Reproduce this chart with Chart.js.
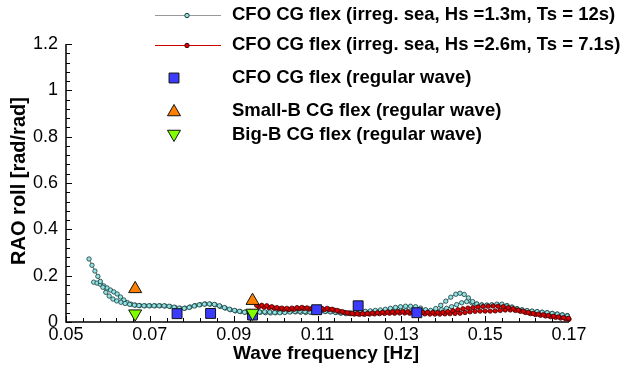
<!DOCTYPE html>
<html>
<head>
<meta charset="utf-8">
<script src="https://cdn.jsdelivr.net/npm/chart.js@4.4.0/dist/chart.umd.min.js"></script>
<style>
  html, body { margin: 0; padding: 0; background: #fff; }
  #wrap { width: 627px; height: 367px; }
</style>
</head>
<body>
<div id="wrap"><canvas id="raoChart" width="627" height="367"></canvas></div>
<script>
// --- data ---
const xTickValues = [0.05, 0.07, 0.09, 0.11, 0.13, 0.15, 0.17];
const xTickLabels = ['0.05', '0.07', '0.09', '0.11', '0.13', '0.15', '0.17'];
const yTickValues = [0, 0.2, 0.4, 0.6, 0.8, 1, 1.2];
const yTickLabels = ['0', '0.2', '0.4', '0.6', '0.8', '1', '1.2'];

const legendLabels = [
    'CFO CG flex (irreg. sea, Hs =1.3m, Ts = 12s)',
    'CFO CG flex (irreg. sea, Hs =2.6m, Ts = 7.1s)',
    'CFO CG flex (regular wave)',
    'Small-B CG flex (regular wave)',
    'Big-B CG flex (regular wave)'
];

// irregular sea Hs=1.3m, Ts=12s (two traces plotted in the same style)
const sea1aFreq = [0.0555,0.0562,0.0569,0.0576,0.0582,0.0588,0.0595,0.0603,0.0612,0.0621,
    0.0631,0.0641,0.0652,0.0663,0.0674,0.0686,0.0698,0.0710,0.0722,0.0734,
    0.0746,0.0758,0.0770,0.0782,0.0794,0.0806,0.0818,0.0830,0.0842,0.0854,
    0.0866,0.0878,0.0890,0.0902,0.0914,0.0926,0.0938,0.0950,0.0962,0.0974,
    0.0986,0.0998,0.1010,0.1022,0.1034,0.1046,0.1058,0.1070,0.1082,0.1094,
    0.1106,0.1118,0.1130,0.1142,0.1154,0.1166,0.1178,0.1190,0.1202,0.1214,
    0.1226,0.1238,0.1250,0.1262,0.1274,0.1286,0.1298,0.1310,0.1322,0.1334,
    0.1346,0.1358,0.1370,0.1382,0.1394,0.1406,0.1418,0.1430,0.1440,0.1450,
    0.1460,0.1470,0.1480,0.1492,0.1504,0.1516,0.1528,0.1540,0.1552,0.1564,
    0.1576,0.1588,0.1600,0.1612,0.1624,0.1636,0.1648,0.1660,0.1672,0.1684,0.1696];
const sea1aRao = [0.272,0.245,0.220,0.197,0.175,0.150,0.128,0.112,0.099,0.091,
    0.085,0.080,0.076,0.073,0.071,0.070,0.070,0.070,0.070,0.070,
    0.068,0.064,0.060,0.059,0.063,0.069,0.074,0.077,0.078,0.076,
    0.070,0.062,0.055,0.050,0.046,0.042,0.040,0.041,0.043,0.044,
    0.043,0.041,0.040,0.041,0.043,0.045,0.046,0.045,0.043,0.042,
    0.043,0.045,0.044,0.042,0.040,0.039,0.040,0.042,0.044,0.046,
    0.048,0.050,0.052,0.055,0.059,0.063,0.066,0.068,0.068,0.066,
    0.060,0.053,0.050,0.058,0.072,0.090,0.107,0.120,0.124,0.119,
    0.104,0.088,0.078,0.073,0.072,0.074,0.077,0.077,0.069,0.061,
    0.055,0.051,0.049,0.047,0.045,0.042,0.040,0.037,0.034,0.030,0.026];

const sea1bFreq = [0.0566,0.0574,0.0582,0.0590,0.0598,0.0606,0.0614,0.0622,0.0630,0.0638,
    0.0646,0.0655,0.0665,0.0676,0.0688,0.0700,0.0712,0.0724,0.0736,0.0748,
    0.0760,0.0772,0.0784,0.0796,0.0808,0.0820,0.0832,0.0844,0.0856,0.0868,
    0.0880,0.0892,0.0904,0.0916,0.0928,0.0940,0.0952,0.0964,0.0976,0.0988,
    0.1000,0.1012,0.1024,0.1036,0.1048,0.1060,0.1072,0.1084,0.1096,0.1108,
    0.1120,0.1132,0.1144,0.1156,0.1168,0.1180,0.1192,0.1204,0.1216,0.1228,
    0.1240,0.1252,0.1264,0.1276,0.1288,0.1300,0.1312,0.1324,0.1336,0.1348,
    0.1360,0.1372,0.1384,0.1396,0.1408,0.1420,0.1432,0.1444,0.1456,0.1468,
    0.1480,0.1492,0.1504,0.1516,0.1528,0.1540,0.1552,0.1564,0.1576,0.1588,
    0.1600,0.1612,0.1624,0.1636,0.1648,0.1660,0.1672,0.1684,0.1696];
const sea1bRao = [0.172,0.168,0.163,0.156,0.147,0.138,0.130,0.121,0.108,0.095,
    0.084,0.077,0.073,0.071,0.070,0.070,0.070,0.070,0.069,0.067,
    0.063,0.059,0.060,0.065,0.071,0.075,0.078,0.077,0.074,0.067,
    0.060,0.053,0.048,0.045,0.043,0.045,0.044,0.042,0.040,0.039,
    0.040,0.042,0.044,0.045,0.044,0.042,0.041,0.042,0.044,0.046,
    0.046,0.044,0.041,0.038,0.036,0.036,0.038,0.041,0.043,0.044,
    0.045,0.045,0.046,0.048,0.050,0.051,0.050,0.048,0.046,0.045,
    0.044,0.045,0.048,0.053,0.059,0.066,0.075,0.083,0.088,0.083,
    0.077,0.074,0.073,0.073,0.074,0.074,0.071,0.065,0.058,0.053,
    0.049,0.046,0.044,0.042,0.040,0.037,0.034,0.031,0.028];

// irregular sea Hs=2.6m, Ts=7.1s (two traces)
const sea2aFreq = [0.0955,0.0967,0.0979,0.0991,0.1003,0.1015,0.1027,0.1039,0.1051,0.1063,
    0.1075,0.1087,0.1099,0.1111,0.1123,0.1135,0.1147,0.1159,0.1171,0.1183,
    0.1195,0.1207,0.1219,0.1231,0.1243,0.1255,0.1267,0.1279,0.1291,0.1303,
    0.1315,0.1327,0.1339,0.1351,0.1363,0.1375,0.1387,0.1399,0.1411,0.1423,
    0.1435,0.1447,0.1459,0.1471,0.1483,0.1495,0.1507,0.1519,0.1531,0.1543,
    0.1555,0.1567,0.1579,0.1591,0.1603,0.1615,0.1627,0.1639,0.1651,0.1663,
    0.1675,0.1687,0.1699];
const sea2aRao = [0.072,0.072,0.070,0.066,0.062,0.060,0.059,0.060,0.062,0.063,
    0.061,0.059,0.058,0.058,0.059,0.055,0.050,0.045,0.040,0.037,
    0.036,0.036,0.037,0.039,0.040,0.042,0.043,0.044,0.045,0.045,
    0.044,0.043,0.042,0.042,0.042,0.041,0.040,0.042,0.045,0.049,
    0.053,0.057,0.060,0.062,0.065,0.067,0.068,0.069,0.068,0.066,
    0.062,0.057,0.051,0.046,0.041,0.037,0.034,0.031,0.028,0.025,
    0.022,0.019,0.016];

const sea2bFreq = [0.0960,0.0972,0.0984,0.0996,0.1008,0.1020,0.1032,0.1044,0.1056,0.1068,
    0.1080,0.1092,0.1104,0.1116,0.1128,0.1140,0.1152,0.1164,0.1176,0.1188,
    0.1200,0.1212,0.1224,0.1236,0.1248,0.1260,0.1272,0.1284,0.1296,0.1308,
    0.1320,0.1332,0.1344,0.1356,0.1368,0.1380,0.1392,0.1404,0.1416,0.1428,
    0.1440,0.1452,0.1464,0.1476,0.1488,0.1500,0.1512,0.1524,0.1536,0.1548,
    0.1560,0.1572,0.1584,0.1596,0.1608,0.1620,0.1632,0.1644,0.1656,0.1668,
    0.1680,0.1692,0.1700];
const sea2bRao = [0.066,0.064,0.062,0.060,0.057,0.055,0.054,0.055,0.057,0.058,
    0.056,0.053,0.052,0.053,0.054,0.051,0.046,0.041,0.037,0.034,
    0.033,0.033,0.034,0.035,0.036,0.037,0.038,0.038,0.039,0.039,
    0.038,0.037,0.036,0.035,0.034,0.034,0.034,0.035,0.036,0.037,
    0.038,0.041,0.044,0.046,0.047,0.047,0.047,0.048,0.050,0.052,
    0.052,0.050,0.046,0.041,0.036,0.032,0.029,0.026,0.023,0.020,
    0.017,0.014,0.012];

// regular wave tests
const cfoRegFreq = [0.0765, 0.0845, 0.0945, 0.1098, 0.1197, 0.1337];
const cfoRegRao = [0.036, 0.037, 0.030, 0.053, 0.070, 0.040];
const smallBFreq = [0.0665, 0.0945];
const smallBRao = [0.143, 0.092];
const bigBFreq = [0.0665, 0.0945];
const bigBRao = [0.036, 0.039];

// --- helpers ---
function toPoints(xs, ys) {
    const n = Math.min(xs.length, ys.length);
    const pts = [];
    for (let i = 0; i < n; i++) pts.push({ x: xs[i], y: ys[i] });
    return pts;
}

const FONT = '"Liberation Sans", Arial, Helvetica, sans-serif';

const styles = {
    sea1: { line: '#666666', fill: '#8fe3e3', edge: '#1a3a3a' },
    sea2: { line: '#8b0000', fill: '#e00000', edge: '#3a0000' },
    cfo: { fill: '#3b3bff', edge: '#111111' },
    smallB: { fill: '#ff8000', edge: '#111111' },
    bigB: { fill: '#80ff00', edge: '#111111' }
};

function seaDataset(label, xs, ys, st, order) {
    return {
        label: label,
        data: toPoints(xs, ys),
        showLine: true,
        borderColor: st.line,
        borderWidth: 1,
        pointRadius: 2.2,
        pointBorderWidth: 0.8,
        pointBackgroundColor: st.fill,
        pointBorderColor: st.edge,
        tension: 0,
        order: order,
        clip: false
    };
}

function markerDataset(label, xs, ys, st, shape, radius, rotation, order) {
    return {
        label: label,
        data: toPoints(xs, ys),
        showLine: false,
        pointStyle: shape,
        pointRadius: radius,
        pointRotation: rotation,
        pointBackgroundColor: st.fill,
        pointBorderColor: st.edge,
        pointBorderWidth: 1,
        order: order,
        clip: false
    };
}

// Tecplot-like axes: left + bottom lines, inward major/minor ticks
const tecplotAxes = {
    id: 'tecplotAxes',
    beforeDatasetsDraw(chart) {
        const { ctx, chartArea: a, scales: { x, y } } = chart;
        ctx.save();
        ctx.strokeStyle = '#000';
        ctx.lineWidth = 1.5;
        ctx.beginPath();
        ctx.moveTo(a.left, a.top);
        ctx.lineTo(a.left, a.bottom);
        ctx.lineTo(a.right, a.bottom);
        ctx.stroke();

        ctx.lineWidth = 1;
        ctx.beginPath();
        for (let i = 0; i <= 30; i++) {
            const len = i % 5 === 0 ? 6 : 4;
            const px = Math.round(x.getPixelForValue(0.05 + i * 0.004)) + 0.5;
            ctx.moveTo(px, a.bottom);
            ctx.lineTo(px, a.bottom - len);
            const py = Math.round(y.getPixelForValue(i * 0.04)) + 0.5;
            ctx.moveTo(a.left, py);
            ctx.lineTo(a.left + len, py);
        }
        ctx.stroke();

        // axis titles
        ctx.fillStyle = '#000';
        ctx.textAlign = 'center';
        ctx.textBaseline = 'middle';
        ctx.font = 'bold 19px ' + FONT;
        ctx.fillText('Wave frequency [Hz]', 326, 354);
        ctx.translate(19, 181);
        ctx.rotate(-Math.PI / 2);
        ctx.font = 'bold 20px ' + FONT;
        ctx.fillText('RAO roll [rad/rad]', 0, 0);
        ctx.restore();
    }
};

function drawShape(ctx, shape, cx, cy, r, fill, edge) {
    ctx.fillStyle = fill;
    ctx.strokeStyle = edge;
    ctx.lineWidth = 1;
    ctx.beginPath();
    if (shape === 'circle') {
        ctx.arc(cx, cy, r, 0, Math.PI * 2);
    } else if (shape === 'rect') {
        const s = r * Math.SQRT1_2;
        ctx.rect(cx - s, cy - s, 2 * s, 2 * s);
    } else {
        const dir = shape === 'triangleDown' ? -1 : 1;
        for (let k = 0; k < 3; k++) {
            const ang = k * 2 * Math.PI / 3;
            const px = cx + Math.sin(ang) * r;
            const py = cy - dir * Math.cos(ang) * r;
            if (k === 0) ctx.moveTo(px, py); else ctx.lineTo(px, py);
        }
        ctx.closePath();
    }
    ctx.fill();
    ctx.stroke();
}

// legend placed in the upper right like the original figure
const tecplotLegend = {
    id: 'tecplotLegend',
    afterDraw(chart) {
        const ctx = chart.ctx;
        const rowY = [15, 45, 78, 111, 135];
        const symX = 174;
        ctx.save();
        const lineCols = [styles.sea1, styles.sea2];
        for (let i = 0; i < 2; i++) {
            ctx.strokeStyle = i === 0 ? '#999999' : '#cc0000';
            ctx.lineWidth = 1;
            ctx.beginPath();
            ctx.moveTo(155, rowY[i] + 0.5);
            ctx.lineTo(221, rowY[i] + 0.5);
            ctx.stroke();
            drawShape(ctx, 'circle', 187, rowY[i] + 0.5, 2.2, lineCols[i].fill, lineCols[i].edge);
        }
        drawShape(ctx, 'rect', symX, rowY[2], 7, styles.cfo.fill, styles.cfo.edge);
        drawShape(ctx, 'triangle', symX, rowY[3] + 1, 7.5, styles.smallB.fill, styles.smallB.edge);
        drawShape(ctx, 'triangleDown', symX, rowY[4] - 1, 7.5, styles.bigB.fill, styles.bigB.edge);

        ctx.fillStyle = '#000';
        ctx.font = 'bold 18.5px ' + FONT;
        ctx.textAlign = 'left';
        ctx.textBaseline = 'middle';
        legendLabels.forEach((t, i) => ctx.fillText(t, 232, rowY[i]));
        ctx.restore();
    }
};

const tickFont = { family: FONT, size: 18 };

new Chart(document.getElementById('raoChart'), {
    type: 'scatter',
    data: {
        datasets: [
            markerDataset(legendLabels[3], smallBFreq, smallBRao, styles.smallB, 'triangle', 7.5, 0, 0),
            markerDataset(legendLabels[4], bigBFreq, bigBRao, styles.bigB, 'triangle', 7.5, 180, 0),
            markerDataset(legendLabels[2], cfoRegFreq, cfoRegRao, styles.cfo, 'rect', 7, 0, 1),
            seaDataset(legendLabels[1], sea2aFreq, sea2aRao, styles.sea2, 2),
            seaDataset(legendLabels[1], sea2bFreq, sea2bRao, styles.sea2, 2),
            seaDataset(legendLabels[0], sea1aFreq, sea1aRao, styles.sea1, 3),
            seaDataset(legendLabels[0], sea1bFreq, sea1bRao, styles.sea1, 3)
        ]
    },
    options: {
        responsive: false,
        animation: false,
        layout: { padding: { left: 0, right: 58, top: 44, bottom: 0 } },
        plugins: {
            legend: { display: false },
            tooltip: { enabled: false }
        },
        scales: {
            x: {
                type: 'linear',
                min: 0.05,
                max: 0.17,
                afterBuildTicks: s => { s.ticks = xTickValues.map(v => ({ value: v })); },
                afterFit: s => { s.height = 45; },
                grid: { display: false, drawTicks: false },
                border: { display: false },
                ticks: {
                    autoSkip: false,
                    maxRotation: 0,
                    padding: 2,
                    color: '#000',
                    font: tickFont,
                    callback: (v, i) => xTickLabels[i]
                }
            },
            y: {
                type: 'linear',
                min: 0,
                max: 1.2,
                afterBuildTicks: s => { s.ticks = yTickValues.map(v => ({ value: v })); },
                afterFit: s => { s.width = 66; },
                grid: { display: false, drawTicks: false },
                border: { display: false },
                ticks: {
                    autoSkip: false,
                    padding: 8,
                    color: '#000',
                    font: tickFont,
                    callback: (v, i) => yTickLabels[i]
                }
            }
        }
    },
    plugins: [tecplotAxes, tecplotLegend]
});
</script>
</body>
</html>
